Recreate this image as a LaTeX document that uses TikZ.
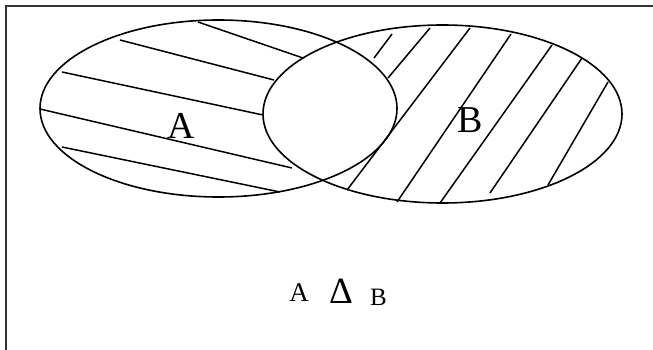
\documentclass[tikz,border=0pt]{standalone}
\usepackage{fontspec}
\setmainfont{Liberation Serif}
\begin{document}
\begin{tikzpicture}[x=1pt,y=-1pt,
  outline/.style={line width=1.6pt, black},
  hatchline/.style={line width=1.5pt, black},
  frameline/.style={line width=1.8pt, black!80},
  biglabel/.style={inner sep=0pt, font=\fontsize{38}{38}\selectfont},
  oplabel/.style={inner sep=0pt, anchor=base, font=\fontsize{27}{27}\selectfont}]
\useasboundingbox (0,0) rectangle (653,350);
% frame (top and left edges)
\draw[frameline] (6,350) -- (6,6) -- (653,6);
% set outlines
\draw[outline] (218.5,108.5) ellipse [x radius=178.5pt, y radius=88.5pt];
\draw[outline] (442.5,114) ellipse [x radius=179.5pt, y radius=89pt];
% hatching of A minus B
\draw[hatchline] (198,22) -- (303,58);
\draw[hatchline] (120,40) -- (274,80);
\draw[hatchline] (62,72) -- (263,115);
\draw[hatchline] (40,109) -- (292,168);
\draw[hatchline] (62,147) -- (280,192);
% hatching of B minus A
\draw[hatchline] (374,58) -- (392,34);
\draw[hatchline] (388,78) -- (430,28);
\draw[hatchline] (347,190) -- (470,28);
\draw[hatchline] (397,202) -- (511,34);
\draw[hatchline] (440,203) -- (552,45);
\draw[hatchline] (490,193) -- (582,58);
\draw[hatchline] (548,185) -- (608,82);
% labels
\node[biglabel] (labelA) at (181,126) {A};
\node[biglabel] (labelB) at (470,120) {B};
\node[oplabel] (opA) at (299,301) {A};
\node[oplabel, font=\fontsize{37}{37}\selectfont] (opDelta) at (341,303) {Δ};
\node[oplabel, font=\fontsize{25}{25}\selectfont] (opB) at (378.5,305) {B};
\end{tikzpicture}
\end{document}
